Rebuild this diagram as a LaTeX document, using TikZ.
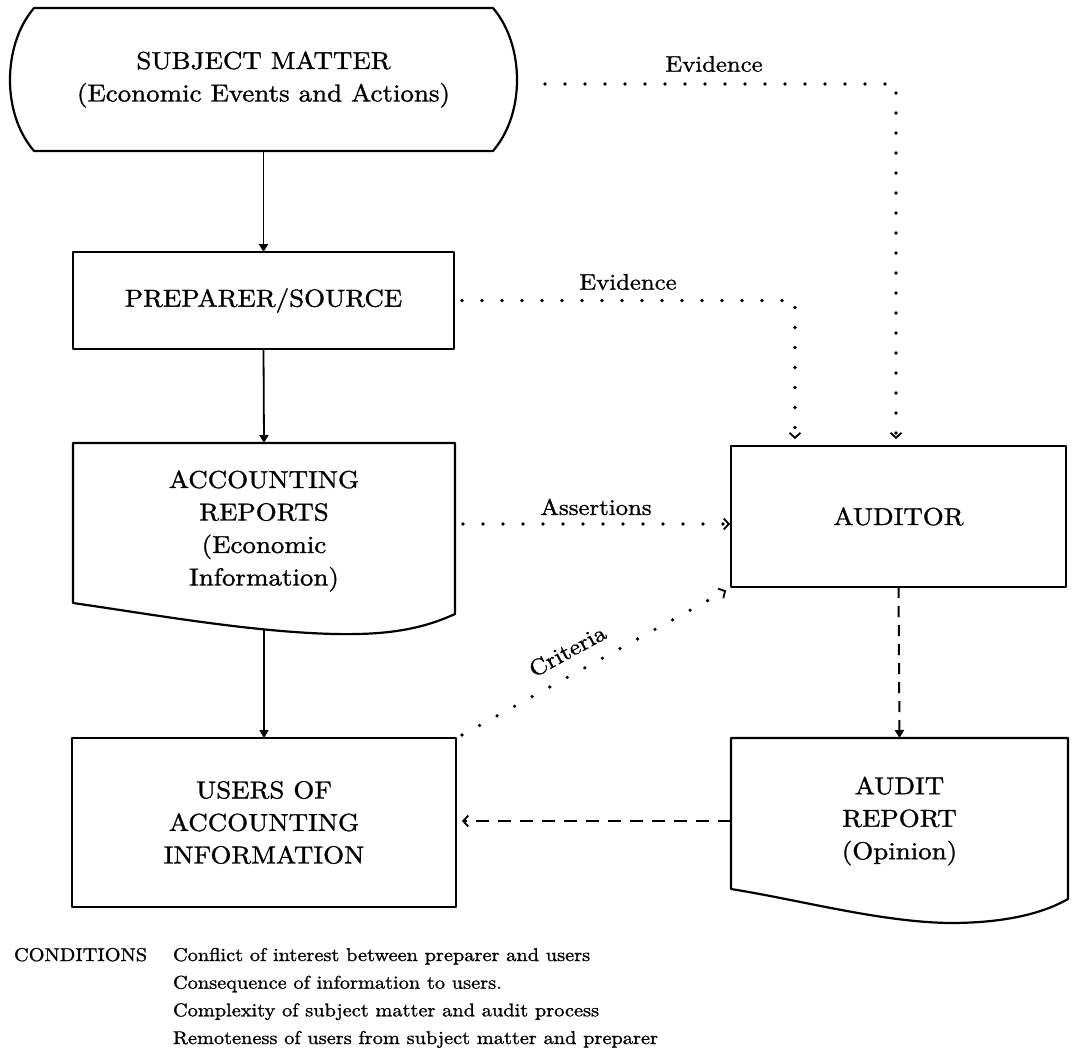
\documentclass[tikz,border=0pt]{standalone}
\usepackage{fontspec}
\setmainfont{lmroman10-regular.otf}[FakeStretch=1.1,FakeBold=1.2]
\usetikzlibrary{arrows.meta,calc}
\begin{document}
\begin{tikzpicture}[x=1pt,y=-1pt,
  every node/.style={inner sep=0pt, outer sep=0pt},
  blk/.style={rectangle, align=center, font=\fontsize{24.5}{32.5}\selectfont},
  lab/.style={font=\fontsize{22.5}{27}\selectfont},
  cond/.style={font=\fontsize{18.5}{27}\selectfont, anchor=base west},
  boxline/.style={line width=2.2pt, line join=round},
  solidarrow/.style={line width=1.8pt, -{Triangle[width=9pt,length=8pt]}},
  chev/.style={-{Straight Barb[length=5pt,width=11pt,line width=1.8pt]}},
  dotline/.style={line width=3.6pt, line cap=round, dash pattern=on 0pt off 20pt, chev, shorten >=7pt},
  dasharrow/.style={line width=2pt, dash pattern=on 11pt off 8pt, -{Triangle[width=9pt,length=8pt]}},
  dashchev/.style={line width=2pt, dash pattern=on 13pt off 9pt, chev, shorten >=6pt}
]
\fill[white] (0,0) rectangle (1074,1053);
\useasboundingbox (0,0) rectangle (1074,1053);

% Subject matter
\node[blk, minimum width=507pt, minimum height=143pt] (subj) at (263.5,79.5)
  {SUBJECT MATTER\\(Economic Events and Actions)};
\draw[boxline] (34,8) -- (493,8) .. controls (510,28) and (517,55) .. (517,80)
  .. controls (517,105) and (510,131) .. (493,151) -- (34,151)
  .. controls (17,131) and (10,105) .. (10,80)
  .. controls (10,55) and (17,28) .. (34,8) -- cycle;

% Preparer
\node[blk, draw, boxline, minimum width=381pt, minimum height=97pt] (prep) at (263.5,300.5) {PREPARER/SOURCE};

% Accounting reports (document)
\node[blk, minimum width=382pt, minimum height=176pt] (ar) at (264,531)
  {ACCOUNTING\\REPORTS\\(Economic\\Information)};
\draw[boxline] (73,443) -- (455,443) -- (455,614)
  .. controls (420,630) and (385,635) .. (335,634)
  .. controls (250,632) and (150,614) .. (73,603) -- cycle;

% Users
\node[blk, draw, boxline, minimum width=384pt, minimum height=169pt] (users) at (264,822.5)
  {USERS OF\\ACCOUNTING\\INFORMATION};

% Auditor
\node[blk, draw, boxline, minimum width=335pt, minimum height=141pt] (aud) at (898.5,516.5) {AUDITOR};

% Audit report (document)
\node[blk, minimum width=337pt, minimum height=166pt] (arep) at (899.5,821)
  {AUDIT\\REPORT\\(Opinion)};
\draw[boxline] (731,738) -- (1068,738) -- (1068,899)
  .. controls (1040,915) and (1000,923) .. (950,923)
  .. controls (880,922) and (800,900) .. (731,889) -- cycle;

% solid connectors
\draw[solidarrow] (subj.south) -- (prep.north);
\draw[solidarrow] (prep.south) -- (ar.north);
\coordinate (arb) at (264,630);
\draw[solidarrow] (arb) -- (users.north);

% evidence
\coordinate (ev1) at (545,84);
\draw[dotline] (ev1) -| ([xshift=-2.5pt]aud.north);
\draw[dotline] ([xshift=8pt]prep.east) -| ([xshift=-103.5pt]aud.north);
\node[lab] (ev1lab) at (714,64) {Evidence};
\node[lab] (ev2lab) at (628,282) {Evidence};

% assertions
\draw[dotline, shorten >=1pt] ([shift={(8pt,7pt)}]ar.east) coordinate (as0) -- (as0 -| aud.west);
\node[lab] (aslab) at (596,507) {Assertions};

% criteria
\draw[dotline, shorten >=1pt] ([shift={(6pt,3pt)}]users.north east) -- ([shift={(-4pt,-3pt)}]aud.south west)
  node[lab, pos=0.44, sloped, above=15pt] (crit) {Criteria};

% audit report flows
\draw[dasharrow] (aud.south) -- (arep.north);
\draw[dashchev] (arep.west) -- (arep.west -| users.east);

% conditions
\node[cond] (condh) at (14,961) {CONDITIONS};
\node[cond] (c1) at (173,961) {Conflict of interest between preparer and users};
\node[cond] (c2) at (173,988.7) {Consequence of information to users.};
\node[cond] (c3) at (173,1016.3) {Complexity of subject matter and audit process};
\node[cond] (c4) at (173,1044) {Remoteness of users from subject matter and preparer};
\end{tikzpicture}
\end{document}
